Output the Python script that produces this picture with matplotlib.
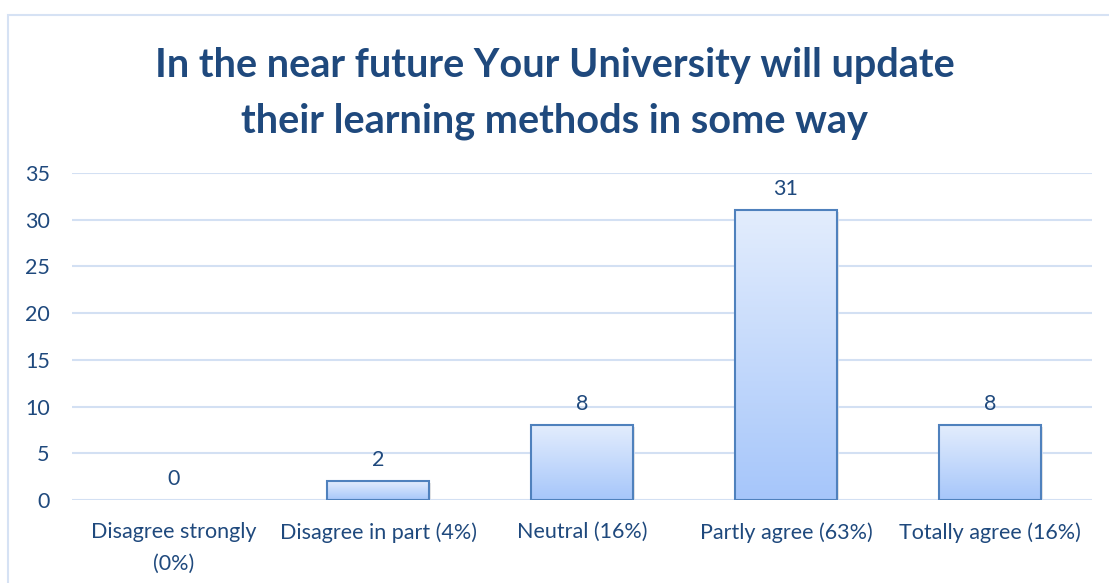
import numpy as np
import matplotlib.pyplot as plt
from matplotlib.colors import LinearSegmentedColormap
from matplotlib.patches import Rectangle

# Данные
categories = ['Disagree strongly\n(0%)', 'Disagree in part (4%)', 'Neutral (16%)',
              'Partly agree (63%)', 'Totally agree (16%)']
values = [0, 2, 8, 31, 8]
y_ticks = [0, 5, 10, 15, 20, 25, 30, 35]
title = 'In the near future Your University will update\ntheir learning methods in some way'

text_color = '#1f497d'
plt.rcParams['font.family'] = ['Lato', 'DejaVu Sans']

fig = plt.figure(figsize=(11.09, 5.83), dpi=100)
ax = fig.add_axes([72 / 1109, 83 / 583, 1020 / 1109, 327 / 583])

# Рамка вокруг диаграммы
fig.patches.append(Rectangle((8 / 1109, -0.1), 1.2, 0.1 + 568 / 583, transform=fig.transFigure,
                             fill=False, edgecolor='#d6e2f4', linewidth=1.5))

x = np.arange(len(categories))
bars = ax.bar(x, values, width=0.5, facecolor='none', edgecolor='#4f81bd',
              linewidth=1.5, zorder=3)

# Градиентная заливка столбцов
cmap = LinearSegmentedColormap.from_list('grad', ['#a6c6fa', '#e3edfd'])
grad = np.linspace(0, 1, 256).reshape(-1, 1)
for b in bars:
    h = b.get_height()
    if h <= 0:
        b.set_linewidth(0)
        continue
    x0 = b.get_x()
    w = b.get_width()
    # тень
    ax.add_patch(Rectangle((x0 + 0.012, -0.15), w, h, facecolor='#b8b8b8',
                           alpha=0.35, edgecolor='none', zorder=1))
    ax.imshow(grad, extent=[x0, x0 + w, 0, h], origin='lower', cmap=cmap,
              aspect='auto', zorder=2)

for xi, v in zip(x, values):
    ax.text(xi, v + 1.2, str(v), ha='center', va='bottom', fontsize=15.5, color=text_color)

ax.set_xlim(-0.5, len(categories) - 0.5)
ax.set_ylim(0, 35)
ax.set_yticks(y_ticks)
ax.set_xticks(x)
ax.set_xticklabels(categories, fontsize=15.5, color=text_color, linespacing=1.75)
ax.tick_params(axis='y', labelsize=15.5, labelcolor=text_color, length=0, pad=16)
ax.tick_params(axis='x', length=0, pad=16)
ax.grid(axis='y', color='#d3e0f3', linewidth=1.5, zorder=0)
for s in ax.spines.values():
    s.set_visible(False)

fig.text(0.5, 0.84, title, ha='center', va='center', fontsize=28.5, fontweight='bold',
         color=text_color, linespacing=1.6)

plt.savefig('out.png', dpi=100)
plt.close(fig)
